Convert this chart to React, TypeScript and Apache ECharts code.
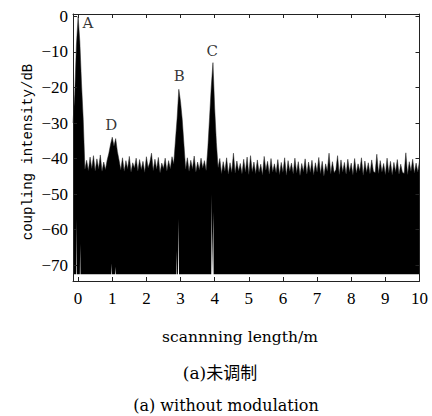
import React, { useEffect, useRef } from "react";
import * as echarts from "echarts";

// Sampling grid of the trace (scanning length, m)
const xStart = -0.15;
const xStep = 0.05;

// Upper envelope of the trace (dB), one value per xStep
const upperDb = [
  -30, -22, -8, 0, -7, -19, -29, -43.0, -40.5, -43.4, -39.6, -42.8, -39.2, -43.5, -40.1, -42.9, -39.0, -43.6, -41.0, -43.1,
  -40.5, -38.5, -36, -34, -36.5, -34.4, -38, -40.5, -43.2, -39.8, -43.6, -40.6, -42.9, -39.4, -43.8, -41.2, -42.7, -39.9, -43.5, -40.3,
  -43.1, -40.8, -43.9, -39.5, -42.6, -41.1, -38.5, -43.4, -40.2, -43.0, -39.7, -44.0, -41.3, -42.8, -39.9, -43.5, -40.6, -42.9, -39.5, -41.5,
  -35, -28.6, -20.5, -24, -29, -36, -43.0, -39.8, -43.6, -40.5, -42.9, -39.3, -43.8, -41.0, -43.2, -39.9, -42.7, -40.6, -43.4, -37,
  -28.5, -19.8, -13, -25.8, -35.5, -42.5, -40.0, -44.2, -40.9, -43.6, -39.8, -44.4, -41.2, -43.9, -38.5, -44.1, -40.7, -43.5, -41.4, -44.3,
  -40.2, -43.8, -39.6, -44.5, -39.2, -43.7, -41.0, -44.2, -40.4, -43.9, -41.6, -44.6, -39.4, -43.3, -40.8, -44.4, -40.0, -43.8, -41.5, -44.0,
  -40.3, -44.5, -41.1, -43.9, -39.8, -44.7, -40.6, -43.6, -41.3, -44.3, -39.9, -44.0, -40.9, -44.8, -41.4, -43.7, -40.1, -44.4, -41.0, -43.9,
  -40.5, -44.6, -41.2, -43.8, -39.7, -44.2, -40.8, -44.9, -41.5, -43.6, -38.5, -44.3, -40.9, -44.0, -43.2, -39.2, -44.5, -40.4, -43.8, -41.1,
  -44.4, -40.2, -43.7, -41.3, -44.6, -40.0, -44.1, -41.5, -43.5, -39.8, -44.7, -40.7, -43.9, -41.2, -44.3, -40.4, -43.6, -44.0, -38.8, -44.2,
  -40.6, -43.8, -41.4, -44.5, -39.9, -44.0, -40.8, -44.6, -41.1, -43.7, -40.3, -44.4, -41.6, -43.9, -44.2, -38.4, -44.5, -40.9, -43.6, -40.2,
  -44.1, -41.3, -43.8, -40.7,
];

// Lower envelope of the trace (sparse points)
const lowerX = [
  -0.15, -0.06, -0.05, -0.04, 0.05, 0.06, 0.07, 0.97, 0.98, 0.99, 1.08, 1.09, 1.1,
  2.88, 2.89, 2.9, 2.925, 2.94, 2.955, 3.9, 3.915, 3.93, 3.95, 3.96, 3.97, 10,
];
const lowerDb = [
  -72.6, -72.6, -57, -72.6, -72.6, -64, -72.6, -72.6, -69.5, -72.6, -72.6, -70.5, -72.6,
  -72.6, -66, -72.6, -72.6, -57, -72.6, -72.6, -50, -72.6, -72.6, -55, -72.6, -72.6,
];

// Axis ticks
const xTicks = [0, 1, 2, 3, 4, 5, 6, 7, 8, 9, 10];
const yTicks = [-70, -60, -50, -40, -30, -20, -10, 0];

// Peak annotations
const peakNames = ["A", "B", "C", "D"];
const peakX = [0.29, 2.96, 3.93, 0.97];
const peakY = [-1.8, -16.8, -9.7, -30.6];

const AXIS_COLOR = "#222";
const TICK_FONT = "Liberation Serif";

export default function App() {
  const ref = useRef<HTMLDivElement>(null);

  useEffect(() => {
    if (!ref.current) return;
    const chart = echarts.init(ref.current, undefined, { renderer: "svg" });

    const upperData = upperDb.map((v, i) => [+(xStart + i * xStep).toFixed(3), v]);
    const lowerData = lowerX.map((x, i) => [x, lowerDb[i]]);
    const peakData = peakNames.map((n, i) => ({ name: n, value: [peakX[i], peakY[i]] }));

    const xMin = -0.15, xMax = 10, yMin = -74.5, yMax = 0.7;
    const minus = (v: number) => String(v).replace("-", "\u2212");

    const baseAxisLine = { show: true, onZero: false, lineStyle: { color: AXIS_COLOR, width: 1 } };
    const baseTick = { show: true, inside: true, length: 4, lineStyle: { color: AXIS_COLOR, width: 1 } };

    const txt = (text: string, x: number, y: number, family: string, size: number, rotation = 0) => ({
      type: "text", x, y, rotation,
      style: {
        text, fontFamily: family, fontSize: size, fill: "#000",
        align: "center", verticalAlign: "middle", textAlign: "center", textVerticalAlign: "middle",
      },
    });

    chart.setOption({
      animation: false,
      backgroundColor: "#fff",
      grid: { left: 73, right: 12.5, top: 14, bottom: 135 },
      xAxis: [
        {
          type: "value", min: xMin, max: xMax, position: "bottom", z: 10,
          axisLine: baseAxisLine,
          axisTick: { ...baseTick, customValues: xTicks },
          axisLabel: { customValues: xTicks, margin: 9, color: "#000", fontFamily: TICK_FONT, fontSize: 17 },
          splitLine: { show: false },
        },
        {
          type: "value", min: xMin, max: xMax, position: "top", z: 10,
          axisLine: baseAxisLine,
          axisTick: { ...baseTick, customValues: xTicks },
          axisLabel: { show: false },
          splitLine: { show: false },
        },
      ],
      yAxis: [
        {
          type: "value", min: yMin, max: yMax, position: "left", z: 10,
          axisLine: baseAxisLine,
          axisTick: { ...baseTick, customValues: yTicks },
          axisLabel: { customValues: yTicks, margin: 5, color: "#000", fontFamily: TICK_FONT, fontSize: 17, formatter: minus },
          splitLine: { show: false },
        },
        {
          type: "value", min: yMin, max: yMax, position: "right", z: 10,
          axisLine: baseAxisLine,
          axisTick: { ...baseTick, customValues: yTicks },
          axisLabel: { show: false },
          splitLine: { show: false },
        },
      ],
      series: [
        {
          type: "line", data: upperData, showSymbol: false, symbol: "none",
          lineStyle: { color: "#222", width: 0.5 },
          areaStyle: { color: "#000", opacity: 1, origin: "start" },
          z: 2,
        },
        {
          type: "line", data: lowerData, showSymbol: false, symbol: "none",
          lineStyle: { width: 0 },
          areaStyle: { color: "#fff", opacity: 1, origin: "start" },
          z: 3,
        },
        {
          type: "scatter", data: peakData, symbolSize: 0, z: 4,
          label: {
            show: true, position: "inside", formatter: (p: any) => p.name,
            color: "#000", fontFamily: "DejaVu Serif", fontSize: 15,
          },
        },
      ],
      graphic: [
        txt("coupling intensity/dB", 28, 152, "Liberation Mono", 14, Math.PI / 2),
        txt("scannning length/m", 240, 337, "DejaVu Serif", 15.5),
        txt("(a)未调制", 220, 373, "DejaVu Serif, Noto Sans CJK SC", 17),
        txt("(a) without modulation", 226, 405, "DejaVu Serif", 16),
      ],
    });

    return () => chart.dispose();
  }, []);

  return <div ref={ref} style={{ position: "fixed", left: 0, top: 0, width: 432, height: 416 }} />;
}
